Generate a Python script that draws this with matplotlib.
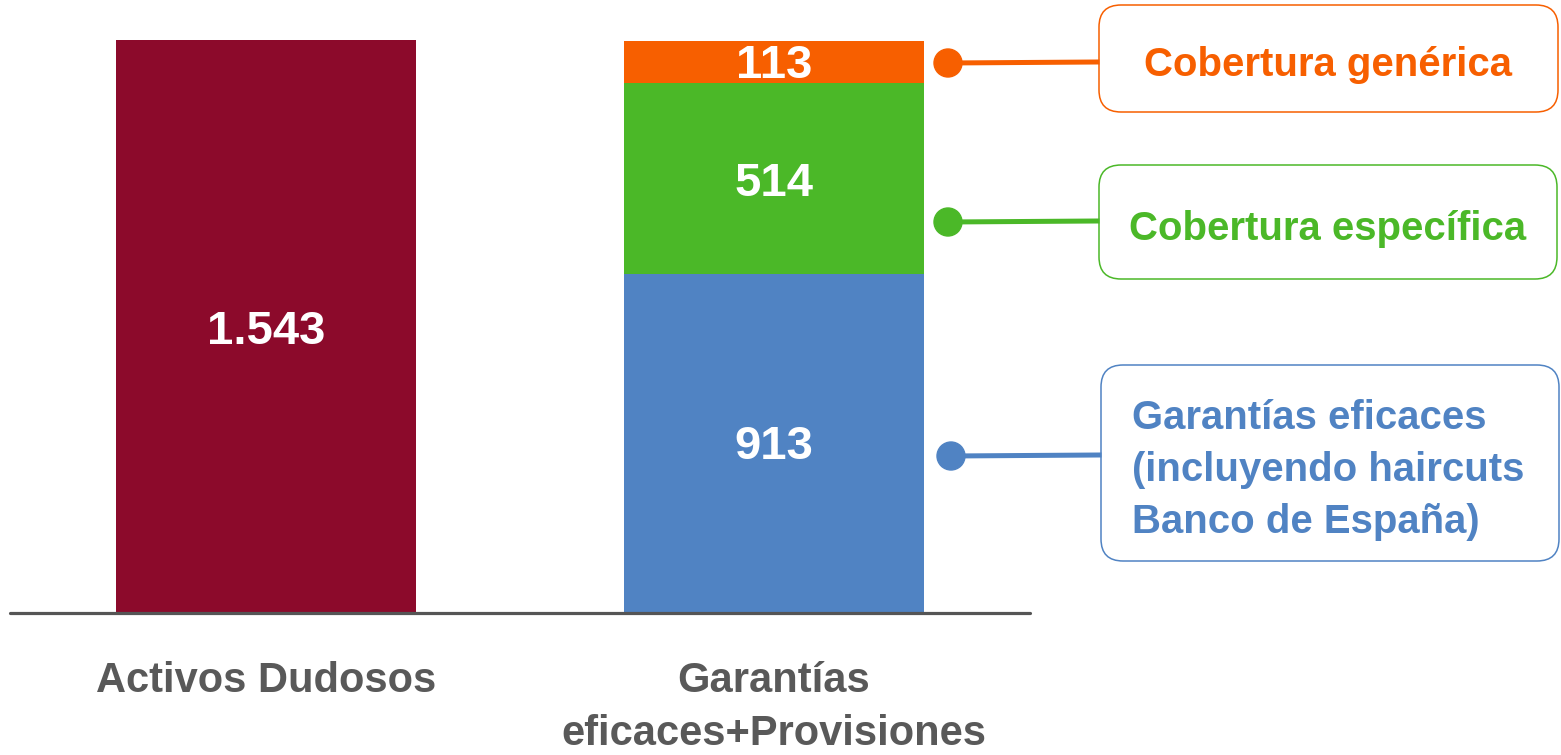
import matplotlib.pyplot as plt
import matplotlib as mpl
from matplotlib.patches import FancyBboxPatch, Circle

mpl.rcParams['font.family'] = ['Liberation Sans', 'DejaVu Sans']
mpl.rcParams['font.weight'] = 'bold'

# datos
categorias = ['Activos Dudosos', 'Garantías\neficaces+Provisiones']
activos_dudosos = [1543]
garantias = [913]
cob_especifica = [514]
cob_generica = [113]
etiquetas_valor = ['1.543', '913', '514', '113']
leyendas = ['Cobertura genérica', 'Cobertura específica',
            'Garantías eficaces\n(incluyendo haircuts\nBanco de España)']

c_rojo = '#8C0A2B'
c_naranja = '#F75F00'
c_verde = '#4BB828'
c_azul = '#5083C3'
c_gris = '#555555'

W, H = 1561, 755
fig = plt.figure(figsize=(W / 100, H / 100), dpi=100)
ax = fig.add_axes([0, 0, 1, 1])

# escala: 508 px entre barras, 573 px para 1543
ux = 508.0
uy = 573.0 / 1543
ax.set_xlim(-266 / ux, (W - 266) / ux)
ax.set_ylim(-142 / uy, (H - 142) / uy)
ax.axis('off')

ancho = 300 / ux
ax.bar([0], activos_dudosos, width=ancho, color=c_rojo)
ax.bar([1], garantias, width=ancho, color=c_azul)
ax.bar([1], cob_especifica, bottom=garantias, width=ancho, color=c_verde)
ax.bar([1], cob_generica, bottom=[g + e for g, e in zip(garantias, cob_especifica)],
       width=ancho, color=c_naranja)

# etiquetas de valor
kw = dict(ha='center', va='center', color='white', fontsize=34, fontweight='bold')
ax.text(0, activos_dudosos[0] * 0.49, etiquetas_valor[0], **kw)
ax.text(1, garantias[0] * 0.49, etiquetas_valor[1], **kw)
ax.text(1, garantias[0] + cob_especifica[0] * 0.47, etiquetas_valor[2], **kw)
ax.text(1, garantias[0] + cob_especifica[0] + cob_generica[0] * 0.40, etiquetas_valor[3], **kw)

# línea base
ax.plot([-256 / ux, 764 / ux], [0, 0], color=c_gris, lw=2.3, solid_capstyle='round')

# categorías
for i, cat in enumerate(categorias):
    ax.text(i, -48 / uy, cat, ha='center', va='top', color='#595959',
            fontsize=30, fontweight='bold', linespacing=1.41)

# leyendas laterales (coordenadas en píxeles -> pulgadas)
tr = fig.dpi_scale_trans


def p(x, y):
    return x / 100, (H - y) / 100


cajas = [
    (1099, 5, 1558, 112, c_naranja, 63, 62, 948),
    (1099, 165, 1557, 279, c_verde, 222, 221, 948),
    (1101, 365, 1559, 561, c_azul, 456, 455, 951),
]
for (x0, y0, x1, y1, col, yd, yl, xd), txt in zip(cajas, leyendas):
    bx, by = p(x0, y1)
    box = FancyBboxPatch((bx, by), (x1 - x0) / 100, (y1 - y0) / 100,
                         boxstyle='round,pad=0,rounding_size=0.22',
                         transform=tr, facecolor='white', edgecolor=col, lw=1.1)
    fig.add_artist(box)
    fig.add_artist(Circle(p(xd, yd), 0.14, transform=tr, color=col))
    xa, ya = p(xd, yd)
    xb, yb = p(x0 - 2, yl)
    fig.add_artist(plt.Line2D([xa, xb], [ya, yb], transform=tr, color=col, lw=3.6))
    if '\n' in txt:
        fig.text(*p(1132, (y0 + y1) / 2 + 7), txt, transform=tr, ha='left', va='center',
                 color=col, fontsize=28.9, fontweight='bold', linespacing=1.48)
    else:
        fig.text(*p((x0 + x1) / 2, (y0 + y1) / 2 + 7), txt, transform=tr, ha='center',
                 va='center', color=col, fontsize=28.9, fontweight='bold')

fig.savefig('out.png', dpi=100)
